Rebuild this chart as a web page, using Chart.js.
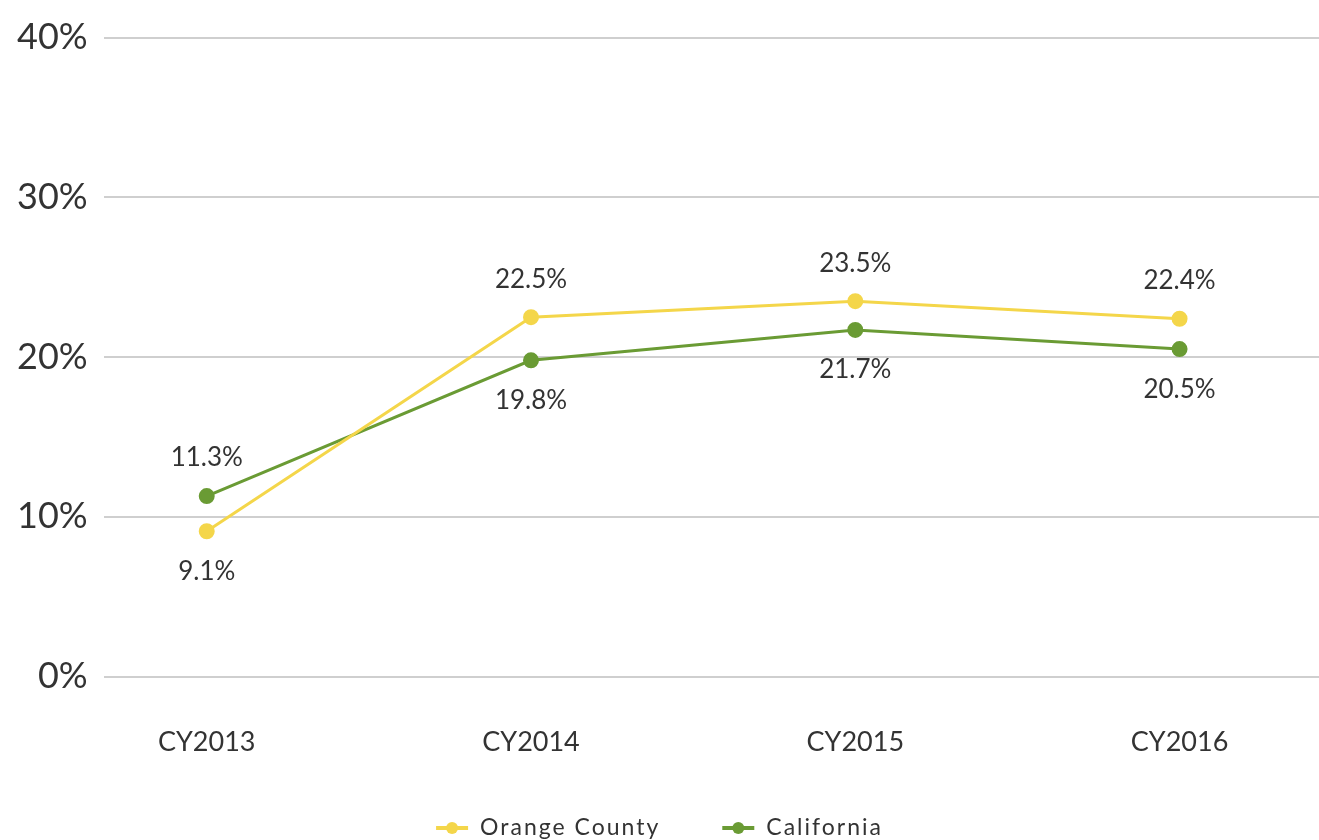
<!DOCTYPE html>
<html>
<head>
<meta charset="utf-8">
<script src="https://cdn.jsdelivr.net/npm/chart.js@4.4.1/dist/chart.umd.min.js"></script>
<style>
  html, body { margin: 0; padding: 0; background: #fff; }
  #wrap { width: 1319px; height: 840px; position: relative; }
</style>
</head>
<body>
<div id="wrap"><canvas id="lineChart"></canvas></div>
<script>
// данные
const categories = ['CY2013', 'CY2014', 'CY2015', 'CY2016'];
const orangeCounty = [9.1, 22.5, 23.5, 22.4];
const california = [11.3, 19.8, 21.7, 20.5];
const yTicks = [0, 10, 20, 30, 40];

const YELLOW = '#F4D64A';
const GREEN = '#6A9B34';
const TEXT = '#333333';
const FONT = "'Lato', 'Open Sans', sans-serif";

// подписи значений: первая серия сверху (кроме 2013), вторая снизу (кроме 2013)
const valueLabels = {
    id: 'valueLabels',
    afterDatasetsDraw(chart) {
        const ctx = chart.ctx;
        ctx.save();
        ctx.font = '26px ' + FONT;
        ctx.fillStyle = TEXT;
        ctx.textAlign = 'center';
        ctx.textBaseline = 'middle';
        chart.data.datasets.forEach((ds, di) => {
            const meta = chart.getDatasetMeta(di);
            meta.data.forEach((pt, i) => {
                const above = di === 0 ? i !== 0 : i === 0;
                const dy = above ? -38 : 40;
                ctx.fillText(ds.data[i].y.toFixed(1) + '%', pt.x, pt.y + dy);
            });
        });
        ctx.restore();
    }
};

// своя легенда внизу: линия с точкой + подпись
const bottomLegend = {
    id: 'bottomLegend',
    afterDraw(chart) {
        const ctx = chart.ctx;
        const y = 828;
        const iconW = 32, gapText = 12, gapItem = 62;
        ctx.save();
        ctx.font = '23px ' + FONT;
        ctx.letterSpacing = '2px';
        const items = chart.data.datasets.map(ds => ({
            label: ds.label, color: ds.borderColor, w: ctx.measureText(ds.label).width
        }));
        const total = items.reduce((s, it) => s + iconW + gapText + it.w, 0) + gapItem * (items.length - 1);
        let x = chart.width / 2 - total / 2;
        items.forEach(it => {
            ctx.strokeStyle = it.color;
            ctx.fillStyle = it.color;
            ctx.lineWidth = 4;
            ctx.beginPath();
            ctx.moveTo(x, y); ctx.lineTo(x + iconW, y);
            ctx.stroke();
            ctx.beginPath();
            ctx.arc(x + iconW / 2, y, 6, 0, Math.PI * 2);
            ctx.fill();
            ctx.fillStyle = TEXT;
            ctx.textAlign = 'left';
            ctx.textBaseline = 'middle';
            ctx.fillText(it.label, x + iconW + gapText, y);
            x += iconW + gapText + it.w + gapItem;
        });
        ctx.restore();
    }
};

const toPoints = arr => arr.map((v, i) => ({ x: i, y: v }));

new Chart(document.getElementById('lineChart'), {
    type: 'line',
    data: {
        datasets: [{
            label: 'Orange County',
            data: toPoints(orangeCounty),
            borderColor: YELLOW,
            backgroundColor: YELLOW,
            borderWidth: 3,
            pointRadius: 6.5,
            pointHoverRadius: 6.5,
            tension: 0
        }, {
            label: 'California',
            data: toPoints(california),
            borderColor: GREEN,
            backgroundColor: GREEN,
            borderWidth: 3,
            pointRadius: 6.5,
            pointHoverRadius: 6.5,
            tension: 0
        }]
    },
    options: {
        responsive: true,
        maintainAspectRatio: false,
        animation: false,
        layout: { autoPadding: false, padding: { top: 24, right: 0, left: 1, bottom: 41 } },
        plugins: {
            tooltip: { enabled: false },
            legend: { display: false }
        },
        scales: {
            x: {
                type: 'linear',
                min: -0.318,
                max: 3.43,
                afterBuildTicks(axis) {
                    axis.ticks = categories.map((c, i) => ({ value: i }));
                },
                afterFit(axis) {
                    axis.paddingLeft = 0;
                    axis.paddingRight = 0;
                },
                ticks: {
                    color: TEXT,
                    font: { size: 27, family: FONT },
                    padding: 41,
                    callback: v => categories[v]
                },
                grid: { display: false },
                border: { display: false }
            },
            y: {
                min: 0,
                max: 40,
                afterBuildTicks(axis) {
                    axis.ticks = yTicks.map(v => ({ value: v }));
                },
                ticks: {
                    color: TEXT,
                    font: { size: 36, family: FONT },
                    padding: 16,
                    callback: v => v + '%'
                },
                grid: { color: '#cfcfcf', lineWidth: 2, drawTicks: false },
                border: { display: false }
            }
        }
    },
    plugins: [valueLabels, bottomLegend]
});
</script>
</body>
</html>
